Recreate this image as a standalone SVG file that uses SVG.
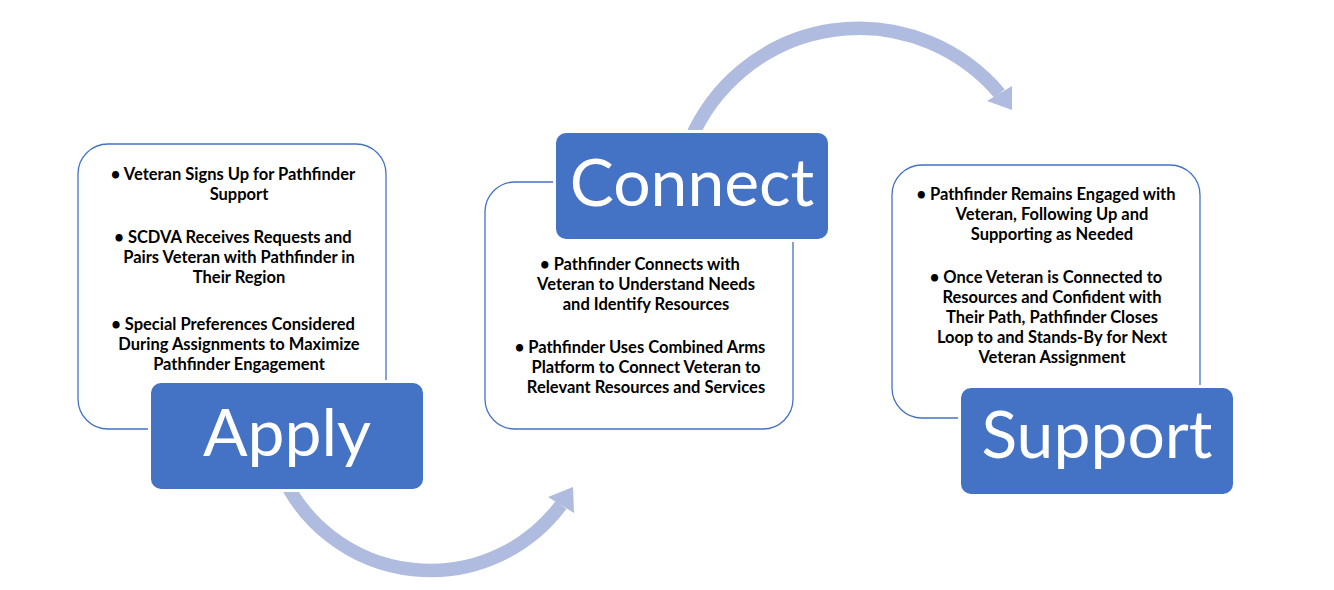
<svg xmlns="http://www.w3.org/2000/svg" width="1334" height="590" viewBox="0 0 1334 590">
<style>
.box{fill:#ffffff;stroke:#4472C4;stroke-width:1.3}
.lab{fill:#4472C4}
.gap{fill:#ffffff}
.lt{font-family:Lato,"Liberation Sans",sans-serif;font-size:66px;fill:#ffffff;text-anchor:middle}
.bt{font-family:Lato,"Liberation Sans",sans-serif;font-size:16.5px;font-weight:bold;fill:#000000;text-anchor:middle}
.arc{fill:none;stroke:#AFBCDF;stroke-width:13.5}
.head{fill:#AFBCDF}
</style>
<rect width="1334" height="590" fill="#ffffff"/>
<g id="connectors">
<path class="arc" d="M282 475 A163 163 0 0 0 561 505"/>
<polygon class="head" points="548,497 573,487 574,513"/>
<path class="arc" d="M690.4 140 A183.4 183.4 0 0 1 999.5 93.5"/>
<polygon class="head" points="987,101 1012,86 1012,110"/>
</g>
<g id="apply">
<rect class="box" x="78" y="144" width="308" height="285" rx="30"/>
<text class="bt" x="233" y="180">• Veteran Signs Up for Pathfinder</text>
<text class="bt" x="239" y="200">Support</text>
<text class="bt" x="233" y="243">• SCDVA Receives Requests and</text>
<text class="bt" x="239" y="263">Pairs Veteran with Pathfinder in</text>
<text class="bt" x="239" y="283">Their Region</text>
<text class="bt" x="233" y="330">• Special Preferences Considered</text>
<text class="bt" x="239" y="350">During Assignments to Maximize</text>
<text class="bt" x="239" y="370">Pathfinder Engagement</text>
<rect class="gap" x="148" y="380" width="278" height="112" rx="12"/>
<rect class="lab" x="151" y="383" width="272" height="106" rx="10"/>
<text class="lt" x="287" y="456">Apply</text>
</g>
<g id="connect">
<rect class="box" x="485" y="182" width="308" height="247" rx="30"/>
<text class="bt" x="640" y="270">• Pathfinder Connects with</text>
<text class="bt" x="646" y="290">Veteran to Understand Needs</text>
<text class="bt" x="646" y="310">and Identify Resources</text>
<text class="bt" x="640" y="353">• Pathfinder Uses Combined Arms</text>
<text class="bt" x="646" y="373">Platform to Connect Veteran to</text>
<text class="bt" x="646" y="393">Relevant Resources and Services</text>
<rect class="gap" x="553" y="130" width="278" height="112" rx="12"/>
<rect class="lab" x="556" y="133" width="272" height="106" rx="10"/>
<text class="lt" x="692" y="206">Connect</text>
</g>
<g id="support">
<rect class="box" x="892" y="165" width="308" height="253" rx="30"/>
<text class="bt" x="1046" y="200">• Pathfinder Remains Engaged with</text>
<text class="bt" x="1052" y="220">Veteran, Following Up and</text>
<text class="bt" x="1052" y="240">Supporting as Needed</text>
<text class="bt" x="1046" y="283">• Once Veteran is Connected to</text>
<text class="bt" x="1052" y="303">Resources and Confident with</text>
<text class="bt" x="1052" y="323">Their Path, Pathfinder Closes</text>
<text class="bt" x="1052" y="343">Loop to and Stands-By for Next</text>
<text class="bt" x="1052" y="363">Veteran Assignment</text>
<rect class="gap" x="958" y="385" width="278" height="112" rx="12"/>
<rect class="lab" x="961" y="388" width="272" height="106" rx="10"/>
<text class="lt" x="1097" y="458">Support</text>
</g>
</svg>
